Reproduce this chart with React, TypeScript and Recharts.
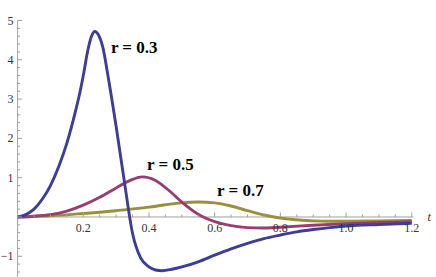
import React from 'react';
import { ComposedChart, Line, XAxis, YAxis, Scatter, ReferenceLine, ReferenceDot, Label } from 'recharts';

// r = 0.3 series
const r03T = [0, 0.025, 0.05, 0.075, 0.1, 0.125, 0.15, 0.175, 0.19, 0.2, 0.214, 0.225, 0.235, 0.247, 0.26, 0.275, 0.3, 0.325, 0.35, 0.375, 0.4, 0.42, 0.44, 0.47, 0.5, 0.55, 0.6, 0.65, 0.7, 0.75, 0.8, 0.85, 0.9, 0.95, 1.0, 1.1, 1.2];
const r03V = [0, 0.06, 0.2, 0.45, 0.8, 1.28, 1.88, 2.65, 3.18, 3.6, 4.25, 4.6, 4.72, 4.62, 4.3, 3.6, 2.3, 0.9, -0.42, -1.05, -1.27, -1.35, -1.37, -1.33, -1.27, -1.14, -0.97, -0.81, -0.67, -0.55, -0.46, -0.38, -0.32, -0.27, -0.23, -0.19, -0.16];

// r = 0.5 series
const r05T = [0, 0.05, 0.1, 0.15, 0.2, 0.25, 0.3, 0.34, 0.38, 0.42, 0.46, 0.5, 0.55, 0.575, 0.6, 0.65, 0.7, 0.75, 0.8, 0.9, 1.0, 1.1, 1.2];
const r05V = [0, 0.02, 0.06, 0.15, 0.3, 0.5, 0.74, 0.92, 1.02, 0.93, 0.68, 0.38, 0.07, -0.04, -0.12, -0.22, -0.27, -0.28, -0.26, -0.21, -0.17, -0.14, -0.12];

// r = 0.7 series
const r07T = [0, 0.1, 0.2, 0.3, 0.4, 0.45, 0.5, 0.55, 0.6, 0.65, 0.7, 0.75, 0.8, 0.85, 0.9, 0.95, 1.0, 1.1, 1.2];
const r07V = [0, 0.03, 0.09, 0.16, 0.25, 0.31, 0.36, 0.38, 0.36, 0.28, 0.16, 0.05, -0.03, -0.07, -0.1, -0.11, -0.11, -0.1, -0.09];

// axis ticks
const yTicks = [-1.4, -1.2, -1, -0.8, -0.6, -0.4, -0.2, 0, 0.2, 0.4, 0.6, 0.8, 1, 1.2, 1.4, 1.6, 1.8, 2, 2.2, 2.4, 2.6, 2.8, 3, 3.2, 3.4, 3.6, 3.8, 4, 4.2, 4.4, 4.6, 4.8, 5];
const yTickLabels: Record<string, string> = { '-1': '\u22121', '1': '1', '2': '2', '3': '3', '4': '4', '5': '5' };
const xTicks = [0.05, 0.1, 0.15, 0.2, 0.25, 0.3, 0.35, 0.4, 0.45, 0.5, 0.55, 0.6, 0.65, 0.7, 0.75, 0.8, 0.85, 0.9, 0.95, 1.0, 1.05, 1.1, 1.15, 1.2];
const xTickLabels: Record<string, string> = { '0.2': '0.2', '0.4': '0.4', '0.6': '0.6', '0.8': '0.8', '1': '1.0', '1.2': '1.2' };

// curve labels
const curveLabels = ['r = 0.3', 'r = 0.5', 'r = 0.7'];
const curveLabelT = [0.284, 0.394, 0.607];
const curveLabelV = [4.33, 1.34, 0.7];

const colors = ['#3d3d99', '#993d71', '#998f3d'];
const AXIS = '#a0a0a0';
const FONT = '"Liberation Serif", "Times New Roman", serif';

const mk = (ts: number[], vs: number[]) => ts.map((t, i) => ({ t, v: vs[i] }));
const d03 = mk(r03T, r03V);
const d05 = mk(r05T, r05V);
const d07 = mk(r07T, r07V);
const xTickData = xTicks.map((t) => ({ t, v: 0 }));

const YTick = (props: any) => {
  const { x, y, payload } = props;
  const val = payload.value;
  const major = Math.abs(val - Math.round(val)) < 1e-6;
  const lab = yTickLabels[String(val)];
  return (
    <g>
      <line x1={x} y1={y} x2={x + (major ? 4.5 : 2.5)} y2={y} stroke={AXIS} strokeWidth={1} />
      {lab && (
        <text x={x - 4} y={y} textAnchor="end" dominantBaseline="central" fontFamily={FONT} fontSize={12} fill="#333">
          {lab}
        </text>
      )}
    </g>
  );
};

const XTickShape = (props: any) => {
  const { cx, cy, payload } = props;
  const key = String(payload.t);
  const lab = xTickLabels[key];
  const major = !!lab;
  return (
    <g>
      <line x1={cx} y1={cy} x2={cx} y2={cy - (major ? 4.5 : 2.5)} stroke={AXIS} strokeWidth={1} />
      {lab && (
        <text x={cx} y={cy + 11} textAnchor="middle" dominantBaseline="central" fontFamily={FONT} fontSize={12} fill="#333">
          {lab}
        </text>
      )}
    </g>
  );
};

export default function App() {
  return (
    <div style={{ position: 'absolute', left: 0, top: 0, width: 436, height: 277, background: '#fff' }}>
      <ComposedChart width={436} height={277} margin={{ top: 20.5, right: 22.6, bottom: 0.3, left: 0 }}>
        <XAxis type="number" dataKey="t" domain={[0, 1.205]} hide />
        <YAxis
          type="number"
          dataKey="v"
          domain={[-1.52, 5]}
          ticks={yTicks}
          interval={0}
          width={17.6}
          tickSize={0}
          tickMargin={0}
          tickLine={false}
          axisLine={{ stroke: AXIS, strokeWidth: 1 }}
          tick={<YTick />}
        />
        <ReferenceLine y={0} stroke={AXIS} strokeWidth={1}>
          <Label value="t" position="right" offset={14} fontFamily={FONT} fontStyle="italic" fontSize={12} fill="#333" />
        </ReferenceLine>
        <Scatter data={xTickData} dataKey="v" shape={<XTickShape />} isAnimationActive={false} />
        <Line data={d07} dataKey="v" type="monotone" stroke={colors[2]} strokeWidth={2.9} dot={false} isAnimationActive={false} />
        <Line data={d05} dataKey="v" type="monotone" stroke={colors[1]} strokeWidth={2.9} dot={false} isAnimationActive={false} />
        <Line data={d03} dataKey="v" type="monotone" stroke={colors[0]} strokeWidth={2.9} dot={false} isAnimationActive={false} />
        {curveLabels.map((txt, i) => (
          <ReferenceDot key={txt} x={curveLabelT[i]} y={curveLabelV[i]} r={0} fill="none" stroke="none" ifOverflow="visible">
            <Label value={txt} position="right" offset={0} fontFamily={FONT} fontWeight="bold" fontSize={17} fill="#000" />
          </ReferenceDot>
        ))}
      </ComposedChart>
    </div>
  );
}
